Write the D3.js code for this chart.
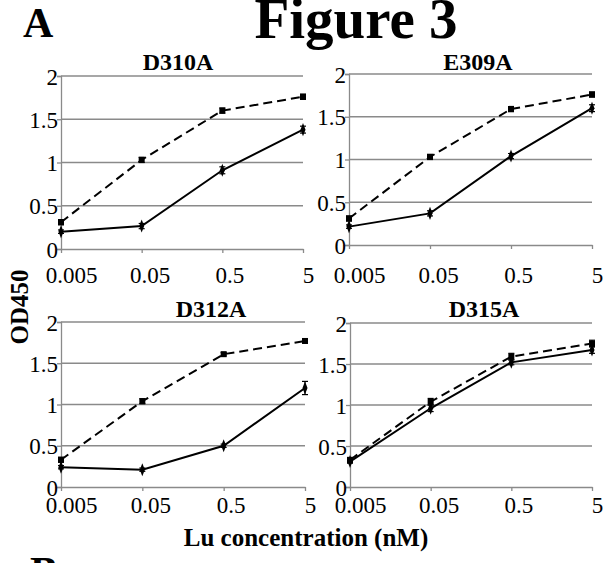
<!DOCTYPE html>
<html>
<head>
<meta charset="utf-8">
<script src="https://cdn.jsdelivr.net/npm/d3@7"></script>
<style>
  html, body { margin: 0; padding: 0; background: #fff; }
  svg { display: block; }
  text { font-family: "Liberation Serif", "Times New Roman", "DejaVu Serif", serif; fill: #000; }
</style>
</head>
<body>
<svg id="chart" width="604" height="563"></svg>
<script>
// ---- data ----
const categories = ["0.005", "0.05", "0.5", "5"];
const yTicks = [0, 0.5, 1, 1.5, 2];
const panelNames = ["D310A", "E309A", "D312A", "D315A"];
// dashed series (reference) per panel
const dashedValues = [
  [0.31, 1.03, 1.60, 1.76],
  [0.31, 1.03, 1.59, 1.76],
  [0.33, 1.04, 1.61, 1.77],
  [0.33, 1.04, 1.59, 1.75]
];
const dashedErrors = [
  [0.03, 0.03, 0.03, 0.03],
  [0.03, 0.03, 0.03, 0.03],
  [0.03, 0.03, 0.02, 0.02],
  [0.03, 0.04, 0.04, 0.04]
];
// solid series (mutant) per panel
const solidValues = [
  [0.20, 0.265, 0.91, 1.38],
  [0.215, 0.37, 1.04, 1.60],
  [0.24, 0.21, 0.50, 1.20],
  [0.31, 0.96, 1.52, 1.67]
];
const solidErrors = [
  [0.02, 0.03, 0.04, 0.04],
  [0.02, 0.03, 0.03, 0.04],
  [0.02, 0.02, 0.02, 0.08],
  [0.02, 0.04, 0.03, 0.04]
];

// ---- layout ----
const layout = [
  { x0: 61,  x1: 303, yTop: 76,  yBot: 249, titleX: 178, titleY: 70,  labelY: 283 },
  { x0: 349, x1: 592, yTop: 74,  yBot: 245, titleX: 478, titleY: 70,  labelY: 283 },
  { x0: 61,  x1: 305, yTop: 322, yBot: 487, titleX: 211, titleY: 317, labelY: 513 },
  { x0: 350, x1: 592, yTop: 323, yBot: 487, titleX: 484, titleY: 317, labelY: 513 }
];
const labelShift = [10, 8, 7, 5];

const svg = d3.select("#chart");
const gridColor = "#8a8a8a";

// Header texts
svg.append("text").attr("x", 356).attr("y", 38).attr("text-anchor", "middle")
  .style("font-size", "57px").style("font-weight", "bold").text("Figure 3");
svg.append("text").attr("x", 23).attr("y", 37)
  .style("font-size", "42px").style("font-weight", "bold").text("A");
svg.append("text").attr("x", 30).attr("y", 586)
  .style("font-size", "42px").style("font-weight", "bold").text("B");

// Axis titles
svg.append("text").attr("transform", "translate(28,307) rotate(-90)")
  .attr("text-anchor", "middle").style("font-size", "25px").style("font-weight", "bold")
  .text("OD450");
svg.append("text").attr("x", 306).attr("y", 546).attr("text-anchor", "middle")
  .style("font-size", "25px").style("font-weight", "bold").text("Lu concentration (nM)");

panelNames.forEach((name, i) => {
  const L = layout[i];
  const x = d3.scalePoint().domain(categories).range([L.x0, L.x1]).padding(0);
  const y = d3.scaleLinear().domain([0, 2]).range([L.yBot, L.yTop]);
  const g = svg.append("g");

  // gridlines
  g.selectAll("line.grid").data(yTicks.filter(t => t > 0)).join("line")
    .attr("x1", L.x0).attr("x2", L.x1)
    .attr("y1", d => y(d)).attr("y2", d => y(d))
    .attr("stroke", gridColor).attr("stroke-width", 1.3);

  // y axis
  const yAxis = d3.axisLeft(y).tickValues(yTicks).tickSize(4).tickFormat(d3.format("~g"));
  const ya = g.append("g").attr("transform", `translate(${L.x0},0)`).call(yAxis);
  ya.attr("font-family", null).attr("font-size", null);
  ya.select(".domain").attr("stroke", gridColor).attr("stroke-width", 1.3);
  ya.selectAll(".tick line").attr("stroke", gridColor).attr("stroke-width", 1.3);
  ya.selectAll(".tick text").attr("x", -3).attr("dy", "0.35em")
    .style("font-size", "23px").attr("fill", "#000");

  // x axis
  const xAxis = d3.axisBottom(x).tickSize(4).tickSizeOuter(0);
  const xa = g.append("g").attr("transform", `translate(0,${L.yBot})`).call(xAxis);
  xa.attr("font-family", null).attr("font-size", null);
  xa.select(".domain").attr("stroke", gridColor).attr("stroke-width", 1.3);
  xa.selectAll(".tick line").attr("stroke", gridColor).attr("stroke-width", 1.3);
  xa.selectAll(".tick text").attr("y", L.labelY - L.yBot).attr("dy", 0)
    .attr("dx", (d, j) => labelShift[j])
    .style("font-size", "23px").attr("fill", "#000");

  // title
  g.append("text").attr("x", L.titleX).attr("y", L.titleY).attr("text-anchor", "middle")
    .style("font-size", "24px").style("font-weight", "bold").text(name);

  const line = d3.line().x((d, j) => x(categories[j])).y(d => y(d));

  function drawSeries(vals, errs, dashed) {
    g.append("path").datum(vals).attr("d", line)
      .attr("fill", "none").attr("stroke", "#000").attr("stroke-width", 2)
      .attr("stroke-dasharray", dashed ? "9,5" : null);
    // error bars
    const eb = g.append("g");
    vals.forEach((v, j) => {
      const cx = x(categories[j]);
      const e = errs[j];
      eb.append("line").attr("x1", cx).attr("x2", cx).attr("y1", y(v - e)).attr("y2", y(v + e))
        .attr("stroke", "#000").attr("stroke-width", 1.2);
      [v - e, v + e].forEach(t => eb.append("line")
        .attr("x1", cx - 3).attr("x2", cx + 3).attr("y1", y(t)).attr("y2", y(t))
        .attr("stroke", "#000").attr("stroke-width", 1.2));
    });
    // markers
    if (dashed) {
      g.selectAll(null).data(vals).join("rect")
        .attr("x", (d, j) => x(categories[j]) - 3).attr("y", d => y(d) - 3)
        .attr("width", 6).attr("height", 6).attr("fill", "#000");
    } else {
      g.selectAll(null).data(vals).join("path")
        .attr("d", d3.symbol().type(d3.symbolDiamond).size(34))
        .attr("transform", (d, j) => `translate(${x(categories[j])},${y(d)}) scale(0.8,1.2)`)
        .attr("fill", "#000");
    }
  }
  drawSeries(dashedValues[i], dashedErrors[i], true);
  drawSeries(solidValues[i], solidErrors[i], false);
});
</script>
</body>
</html>
